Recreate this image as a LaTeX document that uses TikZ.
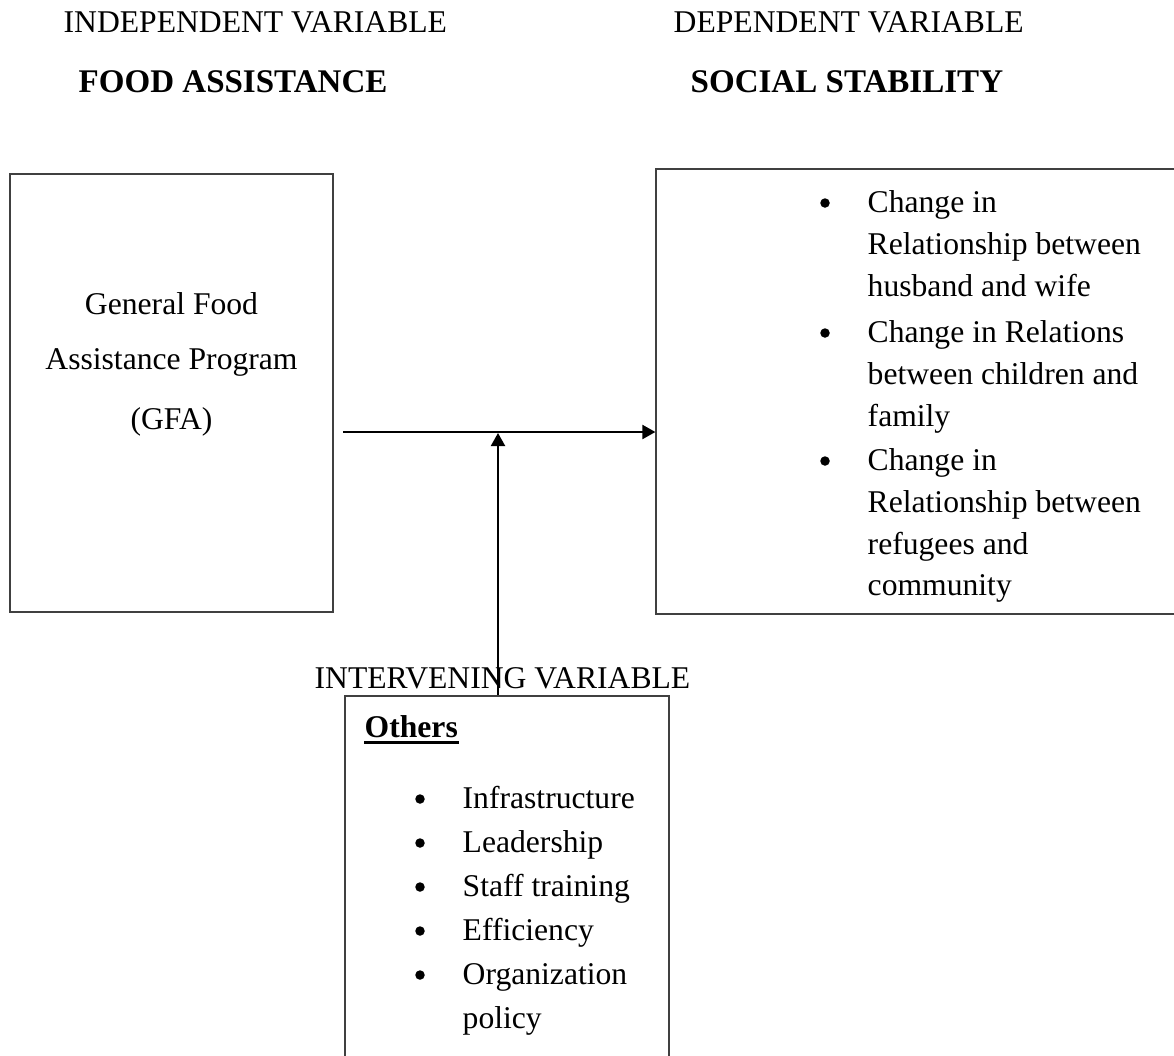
\documentclass[tikz,border=0pt]{standalone}
\usepackage{fontspec}
\setmainfont{Liberation Serif}
\usetikzlibrary{arrows.meta}
\tikzset{
  box/.style={draw=black!75, line width=0.35pt, inner sep=0pt},
  txt/.style={inner sep=0pt, anchor=base west, font=\fontsize{9}{11}\selectfont},
  hdbold/.style={txt, font=\fontsize{9.4}{11}\selectfont\bfseries},
  ctr/.style={txt, anchor=base},
  arr/.style={line width=0.6pt, -{Triangle[length=1.3mm, width=1.4mm]}},
  dot/.style={circle, fill=black, inner sep=0pt, minimum size=0.95mm}
}
\begin{document}
\begin{tikzpicture}[x=0.1mm,y=-0.1mm]
  \useasboundingbox (0,0) rectangle (1174,1055);
  \clip (0,0) rectangle (1174,1055);
  % headings
  \node[txt] (indep) at (63,32) {INDEPENDENT VARIABLE};
  \node[txt] (dep) at (673,32) {DEPENDENT VARIABLE};
  \node[hdbold] (foodhd) at (78,92) {FOOD ASSISTANCE};
  \node[hdbold] (stabhd) at (690,92) {SOCIAL STABILITY};
  % boxes
  \node[box, minimum width=32.3mm, minimum height=43.8mm] (gfa) at (171.5,393) {};
  \node[box, minimum width=52.8mm, minimum height=44.5mm] (stab) at (920,391.5) {};
  \node[box, minimum width=32.4mm, minimum height=37.9mm] (others) at (507,885.5) {};
  % left box text
  \node[ctr] (gfa1) at (171.5,314) {General Food};
  \node[ctr] (gfa2) at (171.5,369) {Assistance Program};
  \node[ctr] (gfa3) at (171.5,429) {(GFA)};
  % right box list
  \foreach \yy/\ln [count=\i] in {212/Change in, 254/Relationship between,
      296/husband and wife, 342/Change in Relations, 384/between children and,
      426/family, 470/Change in, 512/Relationship between, 554/refugees and,
      595/community}
    \node[txt] (stab\i) at (867,\yy) {\ln};
  \foreach \yy in {212,342,470}
    \node[dot] (sdot\yy) at (825,{\yy-9}) {};
  % intervening
  \node[txt] (interv) at (314,688) {INTERVENING VARIABLE};
  \node[hdbold, font=\fontsize{9}{11}\selectfont\bfseries] (othhd) at (364,737) {Others};
  \draw[line width=0.8pt] ([yshift=-1.6pt]othhd.base west) -- ([yshift=-1.6pt]othhd.base east);
  \foreach \yy/\ln [count=\i] in {808/Infrastructure, 852/Leadership,
      896/Staff training, 940/Efficiency, 984/Organization, 1028/policy}
    \node[txt] (oth\i) at (462,\yy) {\ln};
  \foreach \yy in {808,852,896,940,984}
    \node[dot] (odot\yy) at (420,{\yy-9}) {};
  % connectors
  \coordinate (hsrc) at (343,432);
  \coordinate (vtip) at (498,433);
  \draw[arr] (hsrc) -- (hsrc -| stab.west);
  \draw[arr] (vtip |- others.north) -- (vtip);
\end{tikzpicture}
\end{document}
